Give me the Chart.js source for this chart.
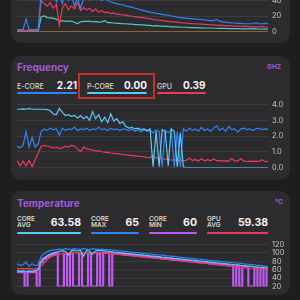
<!DOCTYPE html>
<html>
<head>
<meta charset="utf-8">
<script src="https://cdn.jsdelivr.net/npm/chart.js@4.4.0/dist/chart.umd.min.js"></script>
<style>
  html, body { margin: 0; padding: 0; width: 300px; height: 300px; overflow: hidden; background: #1e1e1e; font-family: Inter, "Noto Sans", sans-serif; }
  .card { position: absolute; left: 11px; width: 279px; background: #2c2c2e; border-radius: 10px; }
  .abs { position: absolute; white-space: nowrap; }
  .title { color: #a259db; font-size: 10px; font-weight: 700; line-height: 10px; }
  .unit { color: #a259db; font-size: 6.5px; font-weight: 700; line-height: 7px; }
  .lbl { color: #d6d6d6; font-size: 7px; font-weight: 500; line-height: 7px; }
  .lbl2 { color: #d6d6d6; font-size: 6.5px; font-weight: 600; line-height: 6px; }
  .val { color: #f2f2f2; font-size: 10px; font-weight: 700; line-height: 10px; text-align: right; }
  .bar { position: absolute; height: 2px; border-radius: 1px; }
  canvas { position: absolute; }
</style>
</head>
<body>
<div class="card" style="top:-20px;height:63px"></div>
<div class="card" style="top:56px;height:124px"></div>
<div class="card" style="top:191px;height:104px"></div>

<canvas id="topChart" width="271" height="79" style="left:17px;top:-39px"></canvas>

<div class="abs title" style="left:17px;top:62px">Frequency</div>
<div class="abs unit" style="left:267px;top:64px">GHZ</div>
<div class="abs lbl" style="left:17px;top:83px">E-CORE</div>
<div class="abs val" style="left:47px;top:80px;width:30px">2.21</div>
<div class="bar" style="left:17px;top:92px;width:60px;background:#2d84f5"></div>
<div class="abs lbl" style="left:87px;top:83px">P-CORE</div>
<div class="abs val" style="left:117px;top:80px;width:30px">0.00</div>
<div class="bar" style="left:87px;top:92px;width:60px;background:#5ac8fa"></div>
<div class="abs lbl" style="left:157px;top:83px">GPU</div>
<div class="abs val" style="left:175px;top:80px;width:30.5px">0.39</div>
<div class="bar" style="left:157px;top:92px;width:49px;background:#f0385e"></div>
<div class="abs" style="left:78px;top:73px;width:77px;height:26px;box-sizing:border-box;border:2px solid #c9302a"></div>
<canvas id="freqChart" width="271" height="80" style="left:17px;top:96px"></canvas>

<div class="abs title" style="left:17px;top:198px">Temperature</div>
<div class="abs unit" style="left:275px;top:199px">°C</div>
<div class="abs lbl2" style="left:17px;top:216px">CORE<br>AVG</div>
<div class="abs val" style="left:41px;top:218px;width:40px;font-size:10.5px">63.58</div>
<div class="bar" style="left:17px;top:232px;width:64px;background:#5ac8fa"></div>
<div class="abs lbl2" style="left:91px;top:216px">CORE<br>MAX</div>
<div class="abs val" style="left:109px;top:218px;width:30px;font-size:10.5px">65</div>
<div class="bar" style="left:91px;top:232px;width:48px;background:#2d84f5"></div>
<div class="abs lbl2" style="left:149px;top:216px">CORE<br>MIN</div>
<div class="abs val" style="left:167px;top:218px;width:30px;font-size:10.5px">60</div>
<div class="bar" style="left:149px;top:232px;width:48px;background:#bf5af2"></div>
<div class="abs lbl2" style="left:207px;top:216px">GPU<br>AVG</div>
<div class="abs val" style="left:228px;top:218px;width:40px;font-size:10.5px">59.38</div>
<div class="bar" style="left:207px;top:232px;width:61px;background:#f0385e"></div>
<canvas id="tempChart" width="271" height="59" style="left:17px;top:236px"></canvas>

<script>
  // --- Top panel (cut off) ---
  const topBlue = [
    2.5, 2.5, 2.5, 16, 2.5, 2.5, 2.5, 2.5, 50, 42, 55, 45,
    60, 38, 48, 36, 52, 40, 46, 33, 44, 30, 42, 47,
    40, 45, 42, 44, 40, 42, 40, 38, 37, 36, 35, 34.5,
    33, 32, 31.5, 30, 29, 28, 27, 26, 25, 24.5, 23.5, 23,
    22, 21.5, 21, 20, 19.5, 18.5, 18, 17.5, 17, 16.5, 16.5, 16,
    15.5, 15.5, 15, 14.5, 14, 14, 15.5, 13, 12.5, 12, 11.5, 11,
    11, 10.5, 10.5, 10, 10, 10, 10, 11.5, 10, 10, 10.5, 10
  ];
  const topRed = [
    1.5, 1.5, 1.5, 1.5, 1.5, 1.5, 1.5, 2, 40, 36, 33, 37,
    30, 35, 8, 30, 36, 28, 33, 29, 38, 27, 31, 28,
    30, 26, 29, 25, 27, 24.5, 25, 23, 24, 22, 22.5, 21,
    21.5, 20, 20, 19, 19, 18, 18, 17, 16.5, 15.5, 15, 14.5,
    14, 13.5, 13, 12.5, 12.5, 12, 11.5, 11, 11, 10.5, 10, 10,
    9.7, 9.5, 9.2, 9, 8.7, 8.5, 8.2, 8, 7.8, 7.5, 7.5, 7.2,
    7, 7, 6.8, 6.5, 6.5, 6.2, 6, 6, 5.8, 6.5, 5.8, 5.5
  ];
  const topTeal = [
    0.5, 0.5, 0.5, 0.5, 0.5, 0.5, 0.5, 0.5, 19, 20, 18, 17.5,
    17, 16, 13, 14, 13.5, 13, 13.5, 12, 10, 12.5, 13, 13,
    13.5, 12.5, 13, 12, 12.5, 14, 11.5, 11.5, 11, 10.5, 10.5, 10,
    10, 9.5, 9.5, 9, 9, 8.5, 8.5, 8, 8, 7, 7.5, 7,
    7, 6.5, 6.5, 6, 6, 6, 5.5, 5.5, 5.5, 5, 5, 5,
    4.8, 4.8, 4.5, 4.5, 4.5, 4.2, 4.2, 4, 4, 4, 3.8, 3.8,
    3.6, 3.6, 3.5, 3.5, 3.4, 3.4, 3.3, 3.3, 3.2, 3.2, 3.1, 3
  ];
  const topOrange = [
    0, 0, 0, 0, 0, 0, 0, 0, 0, 0, 0, 0,
    0, 0, 0, 0, 0, 0, 0, 0, 0, 0, 0, 0,
    0, 0, 0, 0, 0, 0, 0, 0, 0, 0, 0, 0,
    0, 0, 0, 0, 0, 0, 0, 0, 0, 0, 0, 0,
    0, 0, 0, 0, 0, 0, 0, 0, 0, 0, 0, 0,
    0, 0, 0, 0, 0, 0, 0, 0, 0, 0, 0, 0,
    0, 0, 0, 0, 0, 0, 0, 0, 0, 0, 0, 0
  ];

  // --- Frequency (GHz) ---
  const pcore = [
    3.7, 3.7, 3.72, 3.7, 3.75, 3.7, 3.7, 3.7, 3.7, 3.7, 3.68, 3.6,
    3.4, 3.35, 3.75, 3.5, 3.3, 3.35, 3.25, 3.3, 3.15, 3.3, 3.1, 3.25,
    3.0, 3.55, 3.1, 3.35, 2.9, 3.2, 2.85, 3.4, 2.95, 3.1, 2.8, 2.9,
    2.6, 2.5, 2.55, 2.45, 2.5, 2.4, 2.45, 2.35, 2.45, 0.05, 2.3, 0.05,
    2.4, 2.3, 0.1, 2.45, 2.3, 0.05, 2.2, 0.05, 0, 0, 0, 0,
    0, 0, 0, 0, 0, 0, 0, 0, 0, 0, 0, 0,
    0, 0, 0, 0, 0, 0, 0, 0, 0, 0, 0, 0
  ];
  const ecore = [
    1.35, 1.25, 1.4, 2.3, 1.3, 1.9, 1.3, 1.5, 2.3, 2.45, 2.35, 2.5,
    2.4, 2.45, 2.05, 2.5, 2.35, 2.45, 2.4, 2.55, 2.35, 2.45, 2.4, 2.5,
    2.35, 2.45, 2.4, 2.55, 2.4, 2.45, 2.35, 2.5, 2.4, 2.45, 2.35, 2.45,
    2.4, 2.35, 2.45, 2.3, 2.4, 2.25, 2.4, 2.3, 2.35, 2.2, 2.4, 2.3,
    0.05, 2.35, 2.2, 2.4, 0.05, 2.3, 0.05, 2.45, 2.3, 2.5, 2.35, 2.45,
    2.3, 2.55, 2.35, 2.45, 2.3, 2.5, 2.65, 2.35, 2.5, 2.3, 2.6, 2.4,
    2.45, 2.25, 2.45, 2.5, 2.4, 2.45, 2.35, 2.45, 2.5, 2.4, 2.45, 2.4
  ];
  const gpu = [
    0.45, 0.1, 0.4, 0.1, 0.45, 0.05, 0.5, 0.9, 1.35, 1.4, 1.35, 1.3,
    1.25, 1.3, 1.2, 1.25, 1.35, 1.3, 1.4, 1.35, 1.2, 1.0, 1.3, 1.2,
    1.15, 1.1, 1.05, 1.05, 1.0, 0.98, 0.95, 0.92, 0.9, 0.88, 0.85, 0.83,
    0.8, 0.78, 0.76, 0.74, 0.72, 0.7, 0.68, 0.65, 0.63, 0.75, 0.6, 0.58,
    0.55, 0.53, 0.5, 0.48, 0.47, 0.45, 0.46, 0.44, 0.45, 0.6, 0.45, 0.5,
    0.42, 0.55, 0.43, 0.5, 0.42, 0.55, 0.42, 0.45, 0.4, 0.42, 0.4, 0.58,
    0.4, 0.42, 0.55, 0.4, 0.38, 0.4, 0.38, 0.4, 0.38, 0.5, 0.38, 0.38
  ];

  // --- Temperature (°C) ---
  const tAvg = [
    58, 56, 57, 55, 57, 56, 58, 60, 80, 88, 93, 97,
    100, 102, 104, 105, 104, 95, 105, 106, 104, 106, 92, 106,
    104, 97, 105, 106, 105, 105, 104, 103, 102, 101.5, 100.5, 100,
    99, 98.5, 97.5, 97, 96, 95.5, 94.5, 94, 93, 92.5, 91.5, 91,
    90, 89.5, 88.5, 88, 87, 86.5, 85.5, 85, 84, 83.5, 82.5, 82,
    81, 80.5, 79.5, 79, 78, 77.5, 76.5, 76, 75, 74.5, 73.5, 73,
    72, 71.5, 70.5, 70, 69, 68.5, 67.5, 67, 66, 65.5, 65, 64
  ];
  const tMax = [
    75, 70, 72, 78, 68, 74, 70, 72, 92, 98, 103, 106,
    107, 108, 109, 108, 110, 109, 108, 110, 109, 108, 110, 109,
    108, 110, 109, 108, 109, 108, 108, 107, 106.5, 105.5, 105, 104,
    103.5, 102.5, 102, 101, 100.5, 99.5, 99, 98, 97.5, 96.5, 96, 95,
    94.5, 93.5, 93, 92, 91.5, 90.5, 90, 89, 88.5, 87.5, 87, 86,
    85.5, 84.5, 84, 83, 82.5, 81.5, 81, 80, 79.5, 78.5, 78, 77,
    76.5, 75.5, 75, 74, 73.5, 72.5, 72, 71, 70.5, 69.5, 68.5, 67.5
  ];
  const tMin = [
    55, 54, 55, 20, 55, 54, 55, 20, 78, 86, 90, 94,
    97, 99, 20, 20, 98, 20, 99, 20, 20, 99, 20, 20,
    98, 20, 20, 99, 20, 100, 100, 20, 99, 98, 97.5, 97,
    96, 95.5, 94.5, 94, 93, 92.5, 91.5, 91, 90, 89.5, 88.5, 88,
    87, 86.5, 85.5, 85, 84, 83.5, 82.5, 82, 81, 80.5, 79.5, 79,
    78, 77.5, 76.5, 76, 75, 74.5, 73.5, 73, 72, 71.5, 70.5, 70,
    20, 68.5, 20, 67, 66, 20, 20, 64, 20, 62.5, 20, 61
  ];
  const tGpu = [
    63, 62, 63, 62, 63, 62, 62, 63, 68, 76, 84, 89,
    93, 95, 97, 98, 98.5, 99, 99, 99.5, 99.5, 100, 100, 100,
    100, 100, 100, 100, 99.5, 99.5, 99, 98.5, 98, 97, 96.5, 95.5,
    95, 94, 93.5, 92.5, 92, 91, 90.5, 89.5, 89, 88, 87.5, 86.5,
    86, 85, 84.5, 83.5, 83, 82, 81.5, 80.5, 80, 79, 78.5, 77.5,
    77, 76, 75.5, 74.5, 74, 73, 72.5, 71.5, 71, 70, 69.5, 68.5,
    68, 67, 66.5, 65.5, 65, 64, 63.5, 62.5, 62, 61, 60.5, 59.5
  ];

  // --- Colors ---
  const BLUE = '#2d84f5', CYAN = '#5ac8fa', RED = '#f0385e', PURPLE = '#bf5af2';
  const TEAL = '#50c8c0', ORANGE = '#e08a2a';

  /**
   * Line chart with the axis on the right, no x axis, no legend.
   * A line marked "step" is drawn stepped so that its drops read as thin bars.
   */
  function drawChart(id, lines, yMin, yMax, yStep, digits) {
    return new Chart(document.getElementById(id), {
      type: 'line',
      data: {
        labels: lines[0].data.map((_, i) => i),
        datasets: lines.map(l => ({
          data: l.data,
          borderColor: l.color,
          borderWidth: l.width || 1.2,
          pointRadius: 0,
          tension: 0,
          stepped: l.step ? 'middle' : false,
          fill: false
        }))
      },
      options: {
        responsive: false,
        animation: false,
        layout: { padding: 0 },
        plugins: { legend: { display: false }, tooltip: { enabled: false } },
        scales: {
          x: { display: false },
          y: {
            position: 'right',
            min: yMin,
            max: yMax,
            afterFit: s => { s.width = 20; },
            border: { display: false },
            grid: { color: 'rgba(255,255,255,0.08)', drawTicks: false },
            ticks: {
              stepSize: yStep,
              autoSkip: false,
              padding: 4,
              color: '#c4c4c4',
              font: { family: 'Inter', size: 7.5 },
              callback: v => v.toFixed(digits)
            }
          }
        }
      }
    });
  }

  drawChart('topChart', [
    { data: topBlue, color: BLUE },
    { data: topRed, color: RED },
    { data: topTeal, color: TEAL },
    { data: topOrange, color: ORANGE }
  ], 0, 80, 20, 0);

  drawChart('freqChart', [
    { data: pcore, color: CYAN },
    { data: ecore, color: BLUE },
    { data: gpu, color: RED }
  ], 0, 4, 1, 1);

  drawChart('tempChart', [
    { data: tAvg, color: CYAN },
    { data: tMax, color: BLUE },
    { data: tGpu, color: RED },
    { data: tMin, color: PURPLE, step: true, width: 2.2 }
  ], 20, 120, 20, 0);
</script>
</body>
</html>
